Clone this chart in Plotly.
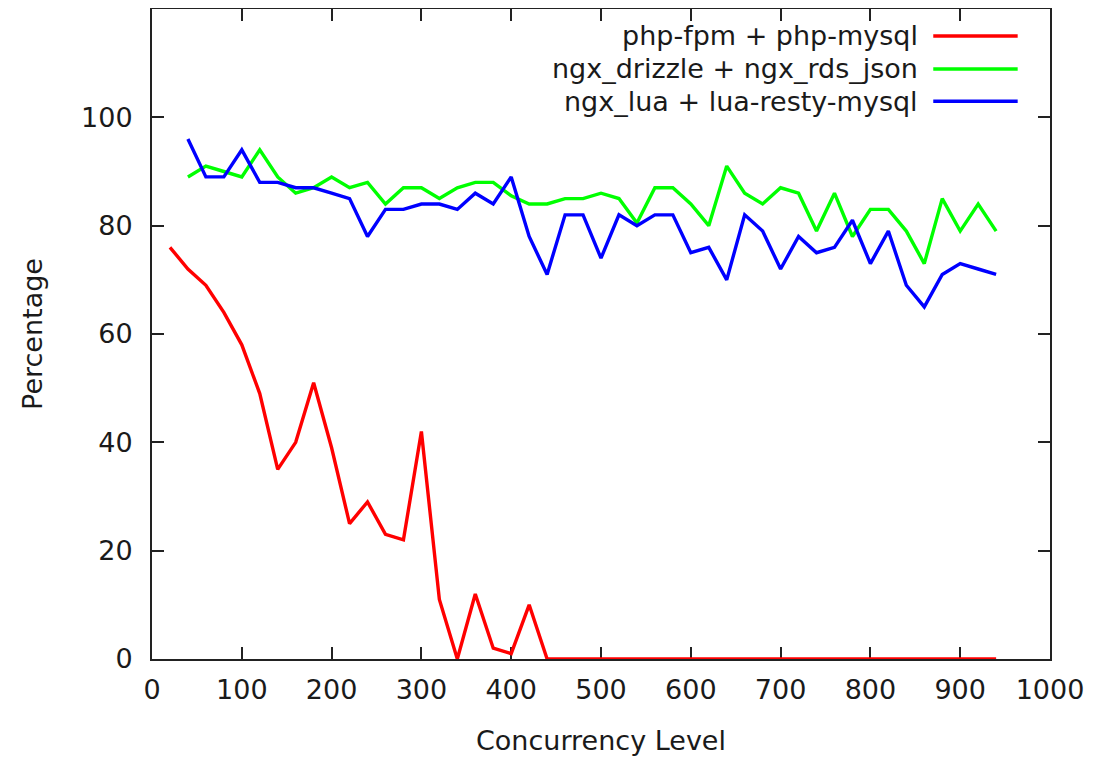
import plotly.graph_objects as go

x_php = [20, 40, 60, 80, 100, 120, 140, 160, 180, 200, 220, 240, 260, 280, 300, 320, 340, 360, 380, 400,
         420, 440, 460, 480, 500, 520, 540, 560, 580, 600, 620, 640, 660, 680, 700, 720, 740, 760, 780, 800,
         820, 840, 860, 880, 900, 920, 940]
y_php = [76, 72, 69, 64, 58, 49, 35, 40, 51, 39, 25, 29, 23, 22, 42, 11, 0, 12, 2, 1,
         10, 0, 0, 0, 0, 0, 0, 0, 0, 0, 0, 0, 0, 0, 0, 0, 0, 0, 0, 0,
         0, 0, 0, 0, 0, 0, 0]

x_ngx = [40, 60, 80, 100, 120, 140, 160, 180, 200, 220, 240, 260, 280, 300, 320, 340, 360, 380, 400,
         420, 440, 460, 480, 500, 520, 540, 560, 580, 600, 620, 640, 660, 680, 700, 720, 740, 760, 780, 800,
         820, 840, 860, 880, 900, 920, 940]
y_drizzle = [89, 91, 90, 89, 94, 89, 86, 87, 89, 87, 88, 84, 87, 87, 85, 87, 88, 88, 85.5,
             84, 84, 85, 85, 86, 85, 80.5, 87, 87, 84, 80, 91, 86, 84, 87, 86, 79, 86, 78, 83,
             83, 79, 73, 85, 79, 84, 79]
y_lua = [96, 89, 89, 94, 88, 88, 87, 87, 86, 85, 78, 83, 83, 84, 84, 83, 86, 84, 89,
         78, 71, 82, 82, 74, 82, 80, 82, 82, 75, 76, 70, 82, 79, 72, 78, 75, 76, 81, 73,
         79, 69, 65, 71, 73, 72, 71]

names = ["php-fpm + php-mysql", "ngx_drizzle + ngx_rds_json", "ngx_lua + lua-resty-mysql"]
colors = ["#ff0000", "#00ff00", "#0000ff"]

x_ticks = [0, 100, 200, 300, 400, 500, 600, 700, 800, 900, 1000]
y_ticks = [0, 20, 40, 60, 80, 100]

FONT = "DejaVu Sans"
FS = 27
TXT = "#1a1a1a"
LW = 3.4

fig = go.Figure()
for xs, ys, nm, col in [(x_php, y_php, names[0], colors[0]),
                        (x_ngx, y_drizzle, names[1], colors[1]),
                        (x_ngx, y_lua, names[2], colors[2])]:
    fig.add_trace(go.Scatter(x=xs, y=ys, mode="lines", name=nm,
                             line=dict(color=col, width=LW), showlegend=False))

# gnuplot-style legend: right-aligned text with line sample on the right
legend_y = [0.9585, 0.9078, 0.858]
for nm, col, ly in zip(names, colors, legend_y):
    fig.add_annotation(x=0.855, y=ly, xref="paper", yref="paper", text=nm,
                       showarrow=False, xanchor="right", yanchor="middle",
                       font=dict(family=FONT, size=FS, color=TXT))
    fig.add_shape(type="line", xref="paper", yref="paper", x0=0.870, x1=0.964,
                  y0=ly, y1=ly, line=dict(color=col, width=LW))

axis_common = dict(showline=True, linecolor="#222222", linewidth=2, mirror="ticks",
                   ticks="inside", ticklen=12, tickwidth=2, tickcolor="#222222",
                   showgrid=False, zeroline=False, layer="below traces", automargin=False,
                   tickfont=dict(family=FONT, size=FS, color=TXT))

fig.update_layout(
    width=1097, height=762,
    margin=dict(l=144, r=55, t=1, b=111),
    paper_bgcolor="white", plot_bgcolor="white",
    xaxis=dict(range=[0, 1000], tickvals=x_ticks, ticktext=[str(v) for v in x_ticks],
               title=dict(text="Concurrency Level", font=dict(family=FONT, size=FS, color=TXT), standoff=27),
               ticklabelstandoff=6, **axis_common),
    yaxis=dict(range=[0, 120], tickvals=y_ticks, ticktext=[str(v) for v in y_ticks],
               title=dict(text="Percentage", font=dict(family=FONT, size=FS, color=TXT), standoff=31),
               ticklabelstandoff=12, **axis_common),
)

fig.write_html("out.html")
